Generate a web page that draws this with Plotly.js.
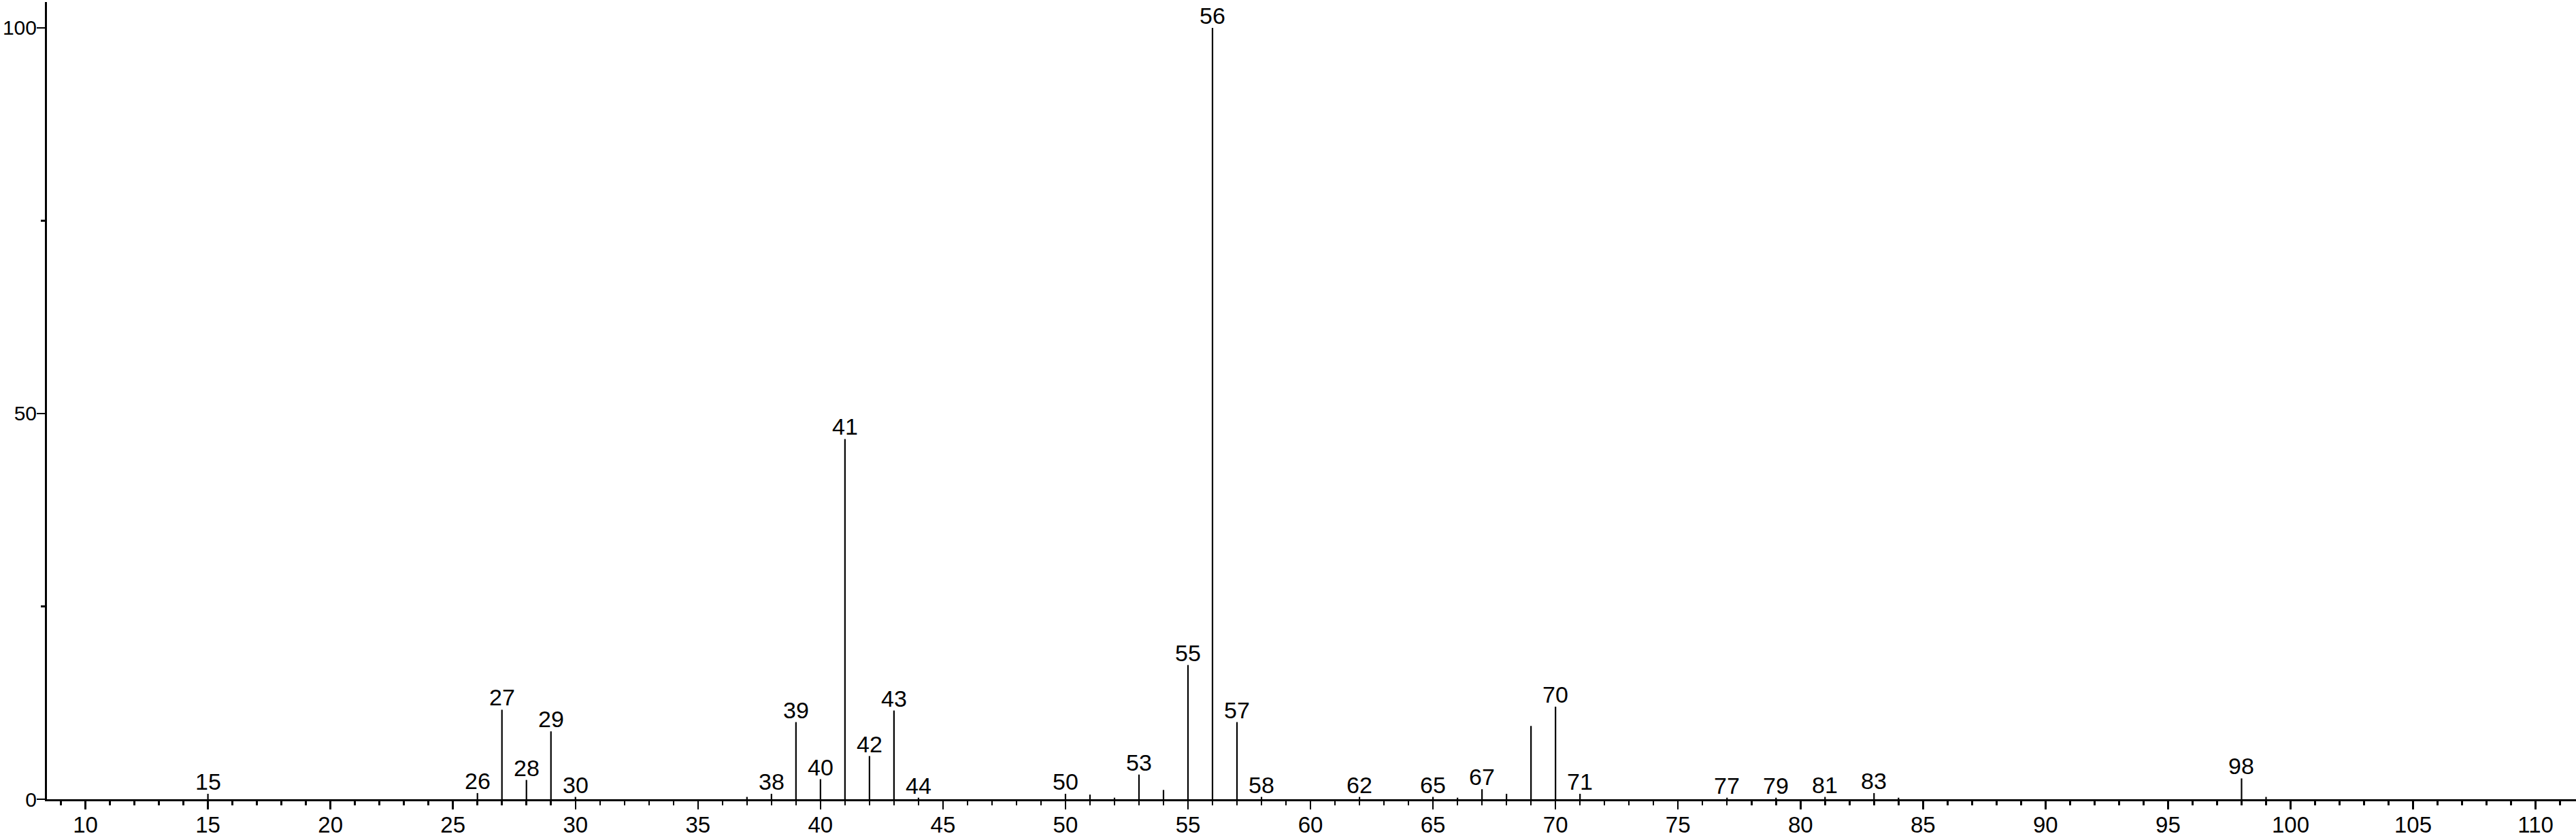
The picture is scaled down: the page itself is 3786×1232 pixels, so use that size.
<!DOCTYPE html>
<html>
<head>
<meta charset="utf-8">
<script src="https://cdn.plot.ly/plotly-3.0.1.min.js"></script>
<style>
  html, body { margin: 0; padding: 0; background: #ffffff; }
  #chart { width: 3786px; height: 1232px; }
</style>
</head>
<body>
<div id="chart"></div>
<script>
// m/z values of the spectrum peaks
const mz = [15, 26, 27, 28, 29, 30, 37, 38, 39, 40, 41, 42, 43, 44, 50, 51, 52, 53, 54, 55, 56, 57, 58, 62, 65, 66, 67, 68, 69, 70, 71, 77, 79, 81, 83, 84, 98, 99];
// relative intensities (%)
const intensity = [0.7, 0.8, 11.6, 2.5, 8.8, 0.3, 0.3, 0.7, 10.0, 2.6, 46.7, 5.6, 11.5, 0.2, 0.7, 0.6, 0.2, 3.2, 1.2, 17.4, 100, 10.0, 0.3, 0.3, 0.3, 0.2, 1.3, 0.7, 9.5, 12.0, 0.7, 0.2, 0.2, 0.3, 0.8, 0.2, 2.7, 0.3];
// peaks carrying a m/z label
const labeledMz = [15, 26, 27, 28, 29, 30, 38, 39, 40, 41, 42, 43, 44, 50, 53, 55, 56, 57, 58, 62, 65, 67, 70, 71, 77, 79, 81, 83, 98];
// axis ticks
const xTickVals = [10, 15, 20, 25, 30, 35, 40, 45, 50, 55, 60, 65, 70, 75, 80, 85, 90, 95, 100, 105, 110];
const yTickVals = [0, 50, 100];

const FONT = "Liberation Sans, Arial, Helvetica, sans-serif";

// stems: vertical lines from 0 up to each intensity
const sx = [], sy = [];
mz.forEach((m, i) => { sx.push(m, m, null); sy.push(0, intensity[i], null); });

const stems = {
  type: 'scatter',
  mode: 'lines',
  x: sx,
  y: sy,
  line: { color: '#000000', width: 2.2 },
  hoverinfo: 'skip',
  showlegend: false,
  cliponaxis: false
};

const annotations = labeledMz.map(m => ({
  x: m,
  y: intensity[mz.indexOf(m)],
  xref: 'x', yref: 'y',
  text: String(m),
  showarrow: false,
  xanchor: 'center',
  yanchor: 'bottom',
  yshift: -3,
  font: { family: FONT, size: 34, color: '#000000' }
}));

const layout = {
  width: 3786,
  height: 1232,
  paper_bgcolor: '#ffffff',
  plot_bgcolor: '#ffffff',
  margin: { l: 69, r: 0, t: 3, b: 57 },
  showlegend: false,
  font: { family: FONT, size: 34, color: '#000000' },
  xaxis: {
    range: [8.43, 111.65],
    tickmode: 'array',
    tickvals: xTickVals,
    ticktext: xTickVals.map(String),
    ticks: 'outside',
    ticklen: 12,
    tickwidth: 2.5,
    tickcolor: '#000000',
    ticklabelstandoff: -6,
    minor: { dtick: 1, tick0: 0, ticks: 'outside', ticklen: 6, tickwidth: 2.5, tickcolor: '#000000', showgrid: false },
    showline: true,
    linecolor: '#000000',
    linewidth: 3,
    showgrid: false,
    zeroline: false,
    automargin: false,
    tickfont: { family: FONT, size: 33, color: '#000000' }
  },
  yaxis: {
    range: [0, 103.35],
    tickmode: 'array',
    tickvals: yTickVals,
    ticktext: yTickVals.map(String),
    ticks: 'outside',
    ticklen: 12,
    tickwidth: 2.5,
    tickcolor: '#000000',
    ticklabelstandoff: -6,
    minor: { dtick: 25, tick0: 0, ticks: 'outside', ticklen: 6, tickwidth: 2.5, tickcolor: '#000000', showgrid: false },
    showline: true,
    linecolor: '#000000',
    linewidth: 3,
    showgrid: false,
    zeroline: false,
    automargin: false,
    tickfont: { family: FONT, size: 30, color: '#000000' }
  },
  annotations: annotations
};

Plotly.newPlot('chart', [stems], layout, { staticPlot: true, displayModeBar: false });
</script>
</body>
</html>
